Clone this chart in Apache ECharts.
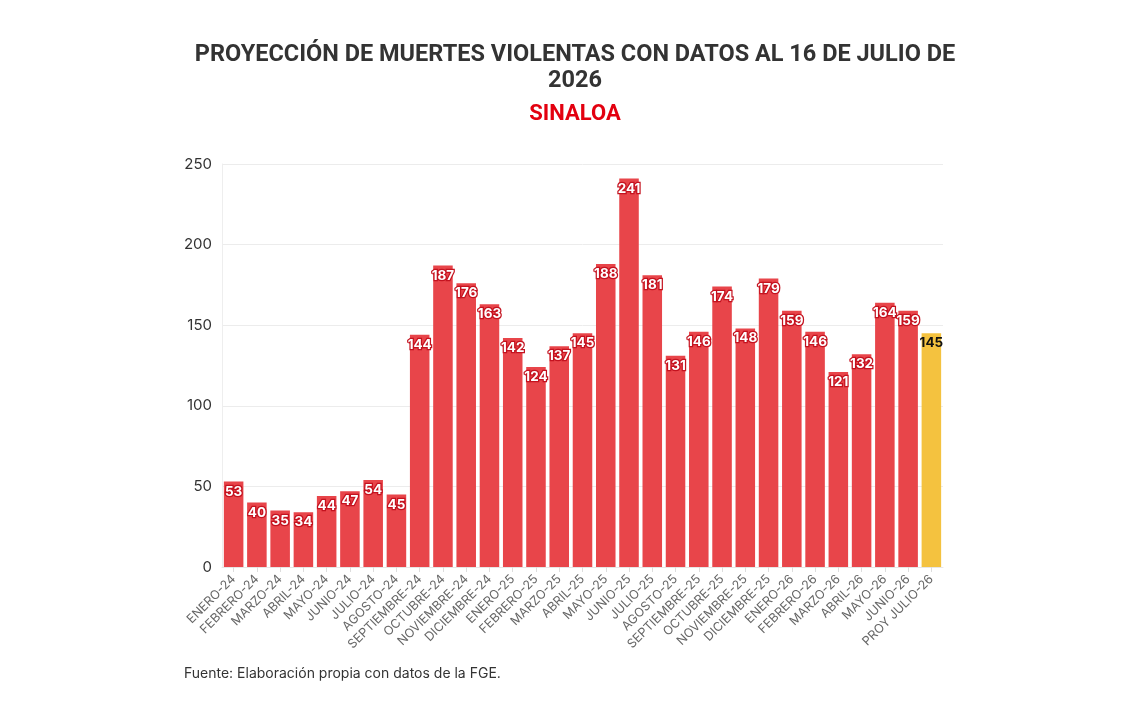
<!DOCTYPE html>
<html>
<head>
<meta charset="utf-8">
<script src="https://cdn.jsdelivr.net/npm/echarts@6/dist/echarts.min.js"></script>
<style>
  html, body { margin: 0; padding: 0; background: #fff; }
  #chart { width: 1140px; height: 720px; }
</style>
</head>
<body>
<div id="chart"></div>
<script>
const months = [
  "ENERO-24", "FEBRERO-24", "MARZO-24", "ABRIL-24", "MAYO-24", "JUNIO-24",
  "JULIO-24", "AGOSTO-24", "SEPTIEMBRE-24", "OCTUBRE-24", "NOVIEMBRE-24", "DICIEMBRE-24",
  "ENERO-25", "FEBRERO-25", "MARZO-25", "ABRIL-25", "MAYO-25", "JUNIO-25",
  "JULIO-25", "AGOSTO-25", "SEPTIEMBRE-25", "OCTUBRE-25", "NOVIEMBRE-25", "DICIEMBRE-25",
  "ENERO-26", "FEBRERO-26", "MARZO-26", "ABRIL-26", "MAYO-26", "JUNIO-26",
  "PROY JULIO-26"
];
const deaths = [
  53, 40, 35, 34, 44, 47, 54, 45, 144, 187, 176, 163,
  142, 124, 137, 145, 188, 241, 181, 131, 146, 174, 148, 179,
  159, 146, 121, 132, 164, 159, 145
];
const projectedIndex = 30;

const chart = echarts.init(document.getElementById("chart"));

const barData = deaths.map((v, i) => {
  if (i !== projectedIndex) return v;
  return {
    value: v,
    itemStyle: { color: "#f4c23f" },
    label: { color: "#111", textBorderWidth: 0 },
  };
});

chart.setOption({
  title: [
    {
      text: "PROYECCIÓN DE MUERTES VIOLENTAS CON DATOS AL 16 DE JULIO DE\n2026",
      left: 570,
      top: 37,
      textAlign: "center",
      textStyle: {
        fontFamily: "Roboto",
        fontWeight: "bold",
        fontSize: 23.5,
        color: "#333",
        lineHeight: 26,
      },
    },
    {
      text: "SINALOA",
      left: 570,
      top: 98,
      textAlign: "center",
      textStyle: {
        fontFamily: "Roboto",
        fontWeight: "bold",
        fontSize: 22,
        color: "#e3000f",
      },
    },
    {
      text: "Fuente: Elaboración propia con datos de la FGE.",
      left: 179,
      top: 662,
      textStyle: {
        fontFamily: "Inter",
        fontWeight: "normal",
        fontSize: 14,
        color: "#333",
      },
    },
  ],
  grid: { left: 222, right: 197, top: 164, bottom: 153, containLabel: false },
  xAxis: {
    type: "category",
    data: months,
    axisLine: { lineStyle: { color: "#e6e6e6" } },
    axisTick: { show: true, alignWithLabel: true, length: 5, lineStyle: { color: "#ddd" } },
    axisLabel: {
      rotate: 45,
      interval: 0,
      fontFamily: "Inter",
      fontSize: 12.5,
      color: "#666",
      margin: 10,
    },
  },
  yAxis: {
    type: "value",
    min: 0,
    max: 250,
    interval: 50,
    axisLine: { show: true, lineStyle: { color: "#eeeeee" } },
    axisTick: { show: false },
    splitLine: { lineStyle: { color: "#ececec" } },
    axisLabel: {
      fontFamily: "Inter",
      fontSize: 15,
      color: "#333",
      margin: 10,
    },
  },
  series: [
    {
      type: "bar",
      data: barData,
      barCategoryGap: "16%",
      itemStyle: { color: "#e8454a" },
      label: {
        show: true,
        position: "insideTop",
        distance: 3,
        fontFamily: "Inter",
        fontWeight: "bold",
        fontSize: 13.5,
        color: "#fff",
        textBorderColor: "#c4121f",
        textBorderWidth: 2.5,
      },
    },
  ],
});
</script>
</body>
</html>
